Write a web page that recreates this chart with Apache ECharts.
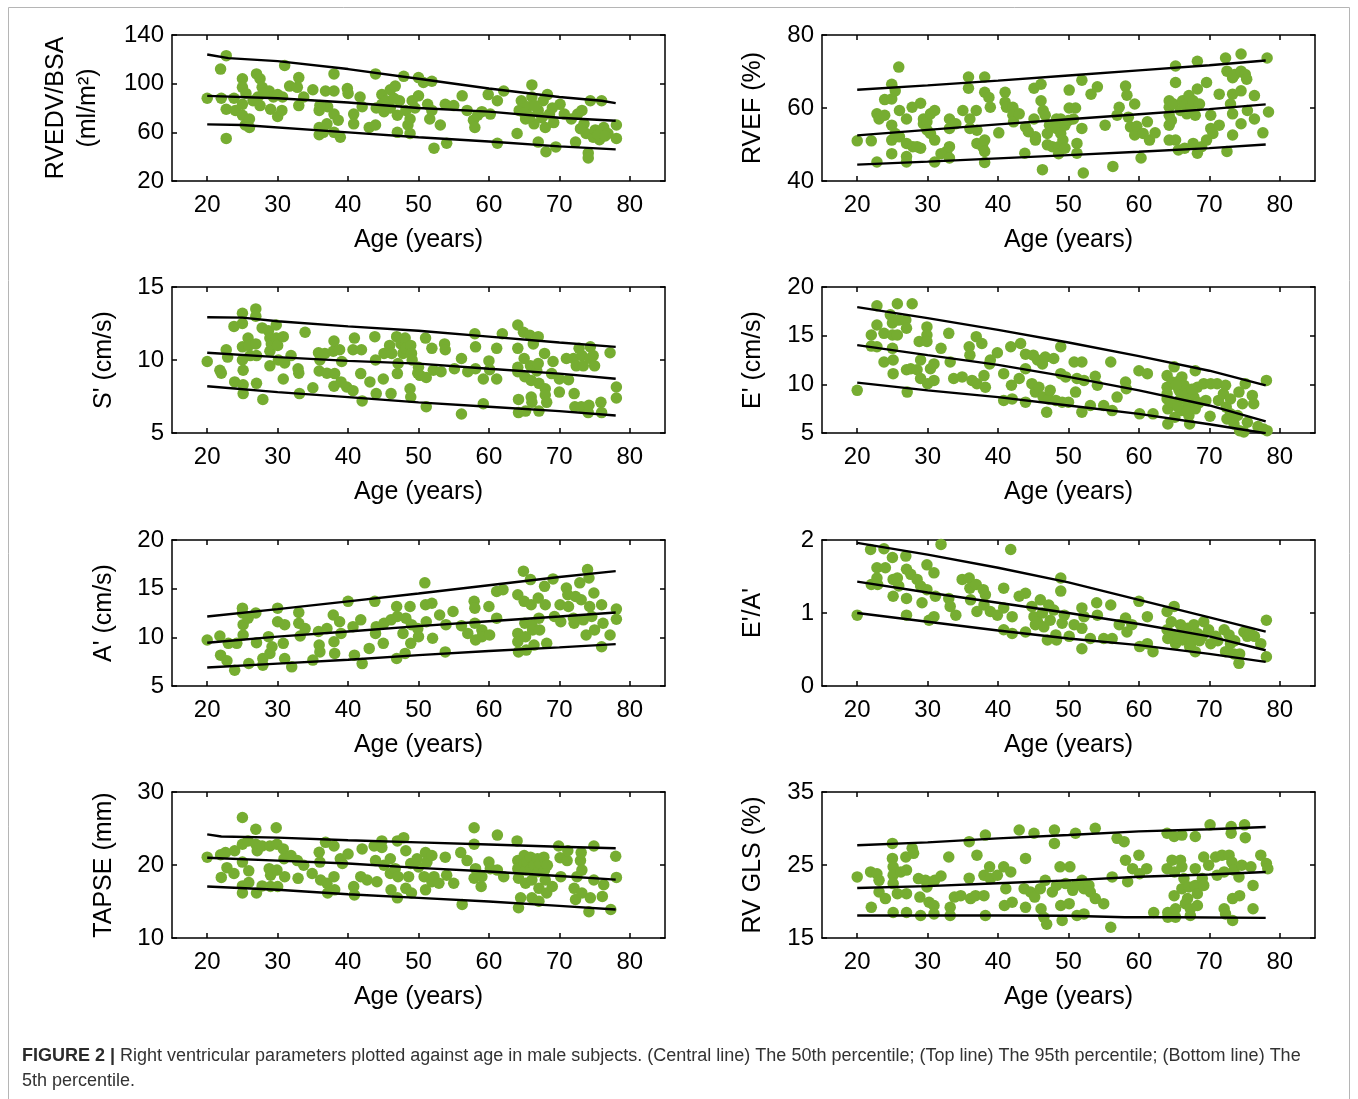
<!DOCTYPE html>
<html><head><meta charset="utf-8">
<script src="https://cdn.jsdelivr.net/npm/echarts@6/dist/echarts.min.js"></script>
<style>html,body{margin:0;padding:0;background:#fff}#c{width:1358px;height:1099px}</style>
</head><body><div id="c"></div>
<script>
// ---------- DATA ----------
const AGE_TICKS = [20, 30, 40, 50, 60, 70, 80];

// RVEDV/BSA (ml/m2)
const rvedvTicks = [20, 60, 100, 140];
const rvedvPts = [[20,88],[21.9,112],[22,88],[22.7,123],[22.7,55],[22.7,79],[23.8,88],[24,78],[25,104],[25,97],[25,83],[25,74],[25.4,66],[26,71],[26,64],[27,108],[27.5,104],[27.8,97],[27.2,89],[28.8,94],[29,79],[29.4,89],[30,91],[30,73],[30.6,78],[30.7,89],[31,115],[31.7,98],[33,105],[33,82],[33.7,89],[32.8,97],[35,95],[35.9,78],[35.9,64],[35.9,58],[36.8,94],[36.5,60],[37.1,81],[38,94],[38,108],[38,75],[38,60],[38.6,70],[38.9,56],[39.9,96],[40.8,75],[40.8,67],[41.7,89],[42,81],[43,64],[43.9,108],[43.9,66],[44.8,91],[44.8,83],[45.1,77],[45.4,86],[46,95],[46.7,98],[47,74],[47,60],[47.3,86],[47.9,106],[48.2,78],[48.5,66],[48.8,59],[49.1,86],[48.8,71],[50,90],[50,105],[50.7,101],[51.3,83],[51.6,71],[51.9,102],[51.9,78],[52.2,47],[53.1,66],[53.8,83],[54,51],[55,82],[56.2,90],[56.9,78],[57.8,70],[58,64],[58.4,74],[59,77],[59.9,91],[60.2,75],[61.2,86],[61.2,51],[62.1,94],[64,59],[64.3,78],[64.6,86],[65.2,71],[65.5,81],[66.1,99],[66.1,89],[66.4,67],[67,78],[67,52],[67.7,86],[68,64],[68.1,44],[68.3,91],[68.6,75],[69.2,68],[69.5,48],[70.1,83],[70.7,75],[71.7,71],[72.3,52],[72.6,75],[73.2,78],[73.5,67],[73.8,59],[74.1,43],[74.1,39],[74.4,86],[74.8,56],[75.1,62],[75.7,54],[76,86],[76.3,64],[76.9,59],[78.1,66],[78.1,55],[25.5,92],[26.5,86],[27.5,82],[28,92],[46,80],[46.5,88],[49.5,80],[65,76],[66.5,82],[67.5,72],[69,80],[65.8,73],[73,63],[75.5,58],[76.5,57],[36,82],[37,67],[40,92],[44,80]];
const rvedvP95 = [[20,124],[23,121],[30,118.5],[40,112],[50,104],[60,96],[70,89],[76,86],[78,84]];
const rvedvP50 = [[20,90],[30,88],[40,84.5],[50,80],[60,77],[70,72],[78,69.5]];
const rvedvP5  = [[20,66.5],[25,66],[40,60],[50,56],[60,52.5],[70,48.5],[78,46]];

// RVEF (%)
const rvefTicks = [40, 60, 80];
const rvefPts = [[20,51],[22,51],[22.8,45.2],[22.8,58.4],[23.1,57],[23.9,62.3],[23.9,58],[24.9,66.5],[24.9,62.5],[24.9,55.3],[24.9,51.2],[24.9,47.5],[25.4,64.7],[25.4,53],[25.9,71.2],[26,59.3],[26,52.1],[27,57],[27,50.3],[27,46.7],[27,45.2],[27.8,60.2],[27.9,49.4],[28.5,49.4],[29,61.3],[29,49],[29.4,57],[29.4,55.7],[29.9,56.2],[29.9,54],[30.4,58.4],[30.4,53],[31,59.3],[31,51.2],[31,45.2],[31.9,47.5],[32.7,48.1],[33.1,57],[33.1,54.4],[33.1,49.4],[33.1,46.3],[34,55.7],[35,59.3],[35.8,68.5],[35.8,65.4],[36,57],[36,54.4],[36.9,59.3],[37,53.9],[37,50.3],[37.8,49.4],[38.1,68.5],[38.1,64.3],[38.1,51.2],[38.1,48.1],[38.1,45.1],[38.7,62.9],[38.9,60.2],[40.1,53.2],[41,64.3],[41,61.6],[41.2,60.2],[42.1,60.2],[42.1,58],[42.2,56.2],[43,58.4],[43.8,47.6],[43.9,54.8],[44.3,53.5],[45.1,65.4],[45.1,57],[45.3,52.1],[45.3,51.2],[46.1,66.5],[46.1,62],[46.3,43.1],[46.4,59.3],[46.7,58],[47,53],[47,49.9],[47.3,55.3],[47.7,49.4],[48.3,57],[48.3,54.4],[48.6,49.4],[48.6,47.5],[48.9,57],[48.9,53],[49.2,51.2],[49.5,49],[49.5,55.3],[50,56.6],[50.1,64.9],[50.1,60],[50.7,57],[51,60],[51.2,50.3],[51.2,47.6],[51.9,67.6],[51.9,54.4],[52.1,42.2],[53.2,63.8],[54.1,65.8],[55.2,55.3],[56.3,44],[56.9,58],[57.2,60.2],[58.1,66],[58.3,63.5],[58.5,57.5],[58.8,54.8],[59.4,61.1],[59.4,52.6],[59.7,55],[60.3,46.3],[60.6,53],[61.2,56.2],[61.5,51.2],[62.3,53.2],[64.3,62],[64.3,60.2],[64.3,58],[64.3,55.3],[64.3,51.2],[64.6,56.6],[64.9,61.1],[65.2,71.5],[65.2,67],[65.2,51.2],[65.6,48.5],[65.9,59.3],[66.2,62],[66.5,60.7],[66.8,58.4],[66.5,49],[67.1,63.4],[67.4,60.2],[67.7,62],[67.7,50.3],[68,58],[68.3,72.8],[68.3,65.2],[68.3,47.6],[68.6,61.1],[68.9,49.4],[69.6,67],[69.6,51.2],[70.2,58],[70.2,54.4],[70.5,53],[71.4,63.8],[71.4,55.3],[72.3,73.7],[72.5,70.1],[72.5,48.1],[73,61.1],[73.3,68.3],[73.3,63.8],[73.3,58.4],[73.3,52.6],[73.6,69.2],[74.5,74.8],[74.5,70.1],[74.5,64.7],[74.5,55.7],[75.1,69.2],[75.3,67.9],[75.4,59.3],[76.4,63.4],[76.4,57],[77.6,53.2],[78.2,73.7],[78.4,58.9]];
const rvefP95 = [[20,65],[30,66.2],[40,67.5],[50,68.9],[60,70.3],[70,71.7],[78,73]];
const rvefP50 = [[20,52.5],[30,54],[40,55.5],[50,56.9],[60,58.3],[70,59.7],[78,61]];
const rvefP5  = [[20,44.5],[30,45.3],[40,46.2],[50,47.1],[60,48],[70,49],[78,50]];

// S' (cm/s)
const sTicks = [5, 10, 15];
const sPts = [[20,9.9],[21.8,9.3],[22,9.1],[22.7,10.7],[22.9,10.2],[23.8,12.3],[23.9,8.5],[25,13.2],[25,12.5],[25,10.9],[25,10],[25.1,9.3],[25.1,8.3],[25.1,7.7],[25.8,11.5],[25.9,11],[26.1,10.3],[26.9,13.5],[26.9,13],[26.9,11.1],[27,10.3],[27,8.4],[27.8,12.2],[27.9,7.3],[28.7,12],[28.9,11.5],[28.9,10.6],[28.9,9.6],[29.1,11.1],[29.8,12.4],[29.8,11.5],[30,11],[30.1,10],[30.8,11.6],[30.8,8.7],[31,9.8],[31.9,10.3],[32.9,9.4],[33,9.1],[33.1,7.7],[33.9,11.9],[35,8.1],[35.8,10.5],[35.9,9.25],[36,10],[36.7,10.45],[37,9.1],[37.9,10.6],[38,11.3],[38,8.2],[38.1,9.07],[38.8,10.7],[39,8.5],[39.1,9.9],[39.8,8.15],[40.7,7.9],[40.7,10.7],[40.9,11.5],[41.8,9.07],[41.9,10.7],[42,7.2],[43.1,8.5],[43.8,11.6],[43.9,10],[44,7.7],[45,8.7],[45.1,10.45],[45.9,11],[46.1,7.7],[46.2,10.45],[46.9,11.6],[47,9.07],[47.1,9.76],[47.5,11.1],[47.8,10.45],[48.1,11.5],[48.2,10.8],[48.8,8.03],[48.9,11],[48.9,7.46],[49,10.45],[49.1,10],[49.9,9.1],[50,9.5],[50.2,8.95],[51,11.5],[51.1,8.8],[51.1,6.8],[51.9,10.8],[52.1,9.3],[53.2,9.2],[53.7,11.1],[53.8,10.7],[55.1,9.4],[56.1,10.1],[56.1,6.3],[57,9.2],[58,11.8],[58.1,10.9],[58.1,9.4],[59.2,8.7],[59.2,7],[60,9.94],[60.1,9.34],[61.1,8.7],[61.1,10.8],[61.9,11.8],[64.1,12.4],[64.1,10.8],[64.1,9.5],[64.1,9.2],[64.2,7.3],[64.2,6.4],[64.9,11.9],[65,10.1],[65.1,8.85],[65.2,6.5],[65.8,11.7],[65.9,9.6],[66,8.6],[66,7.46],[66.1,7.1],[66.3,11.1],[66.8,9.25],[67,11.6],[67,9.76],[67.1,8.4],[67.1,6.5],[67.9,10.45],[68,8.03],[68,7.6],[68.2,7.1],[68.9,9.07],[69.1,9.9],[70,8.7],[70,7.8],[71,10.1],[71.3,8.65],[72,10.1],[72.1,7.7],[72.2,6.8],[72.4,9.6],[72.8,10.8],[73.1,6.8],[73.2,10.3],[73.4,9.6],[74.1,6.4],[74.2,6.9],[74.4,10.9],[74.4,10.1],[74.8,10.3],[75,9.6],[75.9,7.1],[76,6.4],[77.2,10.5],[78.1,8.15],[78.1,7.4]];
const sP95 = [[20,12.93],[25,12.9],[30,12.65],[40,12.3],[50,12],[60,11.6],[70,11.2],[78,10.9]];
const sP50 = [[20,10.5],[30,10.2],[40,9.94],[50,9.75],[60,9.4],[70,9.07],[78,8.72]];
const sP5  = [[20,8.2],[30,7.8],[40,7.46],[50,7.1],[60,6.8],[70,6.5],[78,6.2]];

// E' (cm/s)
const eTicks = [5, 10, 15, 20];
const ePts = [[20,9.38],[22,15.07],[22,13.93],[22.8,18.07],[22.8,16.1],[22.8,13.86],[23.8,15.24],[23.8,12.3],[24.7,17.14],[25,16.3],[25,15.07],[25,13.7],[25.1,12.5],[25.1,11.1],[25.7,18.28],[25.7,15.07],[25.9,16.6],[26.9,16.6],[27,15.76],[27,11.5],[27.1,9.2],[27.8,18.28],[27.6,11.6],[28.5,11.5],[28.8,14.4],[29,12.5],[29,10.6],[29.9,15.9],[29.9,15.07],[29.9,14.4],[30,10.07],[30.4,11.6],[30.9,12.1],[30.9,10.4],[31.9,13.7],[33,15.24],[33.2,12.3],[33.7,10.6],[34.9,10.76],[35.9,13.86],[36,13],[36.3,10.4],[36.9,14.9],[37,10.07],[37.7,14.2],[38,10.9],[38.2,9.7],[38.8,12.1],[38.9,12.5],[39.9,13.24],[40.8,11.1],[40.8,8.35],[41.8,13.86],[41.9,9.9],[42,8.5],[43,10.6],[43.2,14.2],[43.9,13.1],[43.9,11.6],[43.9,8.17],[44.8,10.07],[45,13],[45.3,9.2],[45.6,12.5],[45.8,9.7],[46.3,12.1],[46.4,8.69],[46.7,12.8],[46.9,7.14],[47.2,8.5],[47.4,9.38],[47.9,12.66],[48.2,8.35],[48.9,13.86],[48.9,11.1],[49.1,8.17],[49.6,10.76],[50,8.17],[50.8,12.3],[51,9.2],[51.2,10.6],[51.9,12.3],[51.9,7.14],[52.2,10.4],[53.1,7.83],[53.8,10.83],[54.1,9.9],[55,7.83],[56,12.3],[56.2,7.3],[56.9,8.69],[58.1,10.24],[58.2,9.55],[60,11.4],[60.1,6.97],[61.2,11.1],[62,6.97],[64,10.9],[64,9.7],[64,9.03],[64,8.5],[64.1,7.48],[64.1,5.93],[64.7,10.24],[65,11.8],[65,8],[65.1,6.62],[65.7,9.38],[65.8,10.4],[65.9,8.5],[66,7.3],[66.1,10.76],[66.4,9.9],[66.9,9.03],[67,8],[67.1,6.8],[67.2,5.93],[67.8,8.69],[68,11.4],[68,7.48],[68.3,9.7],[69.2,10.07],[69.5,8.35],[70.1,6.72],[70.2,10.07],[71.1,10.07],[71.3,8.35],[72,9.03],[72.3,9.9],[72.4,7.66],[72.5,6.45],[73,6.97],[73,8.5],[73.5,5.93],[74,6.8],[74.2,9.2],[74.3,5.24],[74.7,8],[74.9,5.1],[75.1,10.07],[75.4,6.1],[76.1,8.86],[76.3,8],[76.9,5.66],[77.7,5.41],[78.1,10.4],[78.2,5.24],[64.5,8.2],[65.5,7.7],[66.5,8.8],[67.5,9.5],[68.5,8.1],[65.3,9.9],[66.8,7.2]];
const eP95 = [[20,17.93],[30,16.8],[40,15.6],[50,14.3],[60,12.9],[70,11.4],[78,9.9]];
const eP50 = [[20,14.03],[30,13],[40,12],[50,10.76],[60,9.38],[70,7.83],[78,6.2]];
const eP5  = [[20,10.17],[30,9.38],[40,8.69],[50,7.83],[60,6.97],[70,5.9],[78,4.97]];

// A' (cm/s)
const aTicks = [5, 10, 15, 20];
const aPts = [[20,9.72],[21.8,10.14],[21.9,8.17],[22.8,7.59],[23,9.38],[23.9,6.62],[24.2,9.38],[25,13],[25,12.5],[25.1,11.3],[25.1,10.24],[25.8,11.97],[25.9,7.31],[26.9,12.5],[27,9.45],[27.9,7.14],[27.9,7.83],[28.7,10.07],[28.9,8.35],[29.2,9.03],[30,13],[30,11.6],[30.8,9.38],[31,11.3],[31,7.83],[32,6.97],[33,12.55],[33,11.45],[33.2,10.14],[33.9,10.9],[35,7.66],[35.8,10.6],[35.9,9.2],[36,8.5],[37,10.9],[37.9,12.3],[38,9.55],[38.1,8.35],[38.8,11.6],[39,10.4],[40,13.7],[40.7,11.1],[40.9,8.17],[41.8,11.8],[42,7.3],[43,8.86],[43.8,13.7],[43.9,10.4],[44,11.1],[45,9.38],[45.1,11.45],[46.1,11.8],[46.9,13.17],[46.9,7.83],[47,12.14],[47.8,10.4],[48.1,8.35],[48.2,11.97],[48.8,13.17],[48.9,9.38],[49,11.3],[49.9,10.9],[50,10.07],[50.9,15.6],[51,13.35],[51.1,11.6],[51.9,13.5],[52,9.9],[53,12.3],[53.8,8.5],[53.9,11.3],[54.9,12.66],[56.1,11.2],[57,10.4],[57.9,13.7],[58,13],[58,11.45],[58.1,9.72],[59,10.76],[59,10.07],[60,13.17],[60.1,10.24],[61.1,14.72],[61.1,11.97],[62,14.9],[64.1,14.38],[64.1,10.4],[64.1,9.55],[64.2,8.5],[64.9,16.8],[65,13.7],[65.1,11.45],[65.2,10.07],[65.3,8.69],[65.9,15.93],[66,13.35],[66.1,11.3],[66.2,10.76],[66.4,9.2],[67,14.03],[67.1,11.97],[67.2,10.76],[67.9,15.24],[68,13.35],[68.2,9.38],[69.1,16],[69.3,12.14],[70.1,13.35],[70.2,11.6],[71,15.07],[71.2,14.38],[71.3,13.17],[72,11.97],[72.1,11.45],[72.3,14.2],[72.9,15.6],[73.1,13.86],[73.4,11.8],[73.8,10.24],[74,16.97],[74.2,16.1],[74.3,13.17],[74.6,12.14],[74.9,14.55],[75,10.76],[76,9.03],[76,13.35],[76.2,11.45],[77.2,10.24],[78.1,12.9],[78.1,11.86]];
const aP95 = [[20,12.14],[30,12.9],[40,13.7],[50,14.5],[60,15.35],[70,16.2],[78,16.8]];
const aP50 = [[20,9.45],[30,10.07],[40,10.6],[50,11.15],[60,11.65],[70,12.14],[78,12.55]];
const aP5  = [[20,6.9],[30,7.3],[40,7.7],[50,8.17],[60,8.6],[70,8.97],[78,9.3]];

// E'/A'
const eaTicks = [0, 1, 2];
const eaPts = [[20,0.97],[21.9,1.87],[22,1.39],[22.8,1.62],[22.8,1.48],[22.9,1.39],[23.8,1.88],[24,1.62],[25,1.76],[25.1,1.46],[25.1,1.23],[25.7,1.48],[25.9,1.37],[26.9,1.78],[27,1.6],[27,1.2],[27,0.97],[27.6,1.53],[28.5,1.46],[29,1.37],[29.2,1.14],[29.9,1.66],[29.9,1.32],[30.2,0.9],[30.9,1.55],[30.9,0.95],[31.1,1.23],[31.9,1.94],[33,1.2],[33.2,1.09],[34,0.97],[34.9,1.46],[35.9,1.48],[36,1.34],[36.1,1.18],[36.9,1.39],[37,1.02],[37.9,1.32],[38,1.11],[38.2,1.25],[38.9,1.02],[39.9,0.97],[40.8,1.34],[40.8,1.07],[40.8,0.77],[41.8,1.87],[42,0.95],[42,0.72],[43,1.23],[43.9,1.27],[43.9,0.74],[44.8,1.09],[45.1,0.95],[45.3,0.84],[45.6,0.88],[46,1.18],[46.3,1],[46.5,0.81],[47,0.63],[47.2,1.11],[47.4,0.9],[47.9,1.04],[48.2,0.7],[48.3,0.63],[48.9,1.48],[48.9,1.3],[49.1,0.86],[49.4,0.97],[50.1,0.68],[50.8,0.84],[51.9,1.07],[51.9,0.79],[51.9,0.51],[52.2,0.95],[53.1,0.65],[54,1.14],[54.1,0.97],[55,0.65],[56,1.11],[56.2,0.65],[57.2,0.84],[58.1,0.93],[58.3,0.74],[59,0.84],[60,1.16],[60.1,0.54],[61.2,0.95],[61.2,0.58],[62,0.47],[64,1.02],[64,0.77],[64.1,0.65],[65,1.09],[65,0.7],[65.2,0.58],[65.9,0.84],[66,0.72],[66.2,0.63],[66.9,0.79],[67,0.68],[67.2,0.54],[67.8,0.84],[68,0.47],[68.3,0.72],[69,0.68],[69.2,0.88],[69.9,0.77],[70.2,0.58],[70.9,0.68],[72.1,0.77],[72.3,0.47],[72.8,0.7],[73,0.58],[73.5,0.44],[74.2,0.31],[74.3,0.44],[74.9,0.74],[75.4,0.68],[75.8,0.72],[76.4,0.68],[77.3,0.58],[78.1,0.9],[78.1,0.4],[64.6,0.88],[65.6,0.66],[66.6,0.76],[67.5,0.6],[68.6,0.62],[71.2,0.62],[73.6,0.62]];
const eaP95 = [[20,1.96],[30,1.8],[40,1.62],[50,1.42],[60,1.18],[70,0.94],[78,0.745]];
const eaP50 = [[20,1.43],[30,1.28],[40,1.14],[50,1.0],[60,0.85],[70,0.68],[78,0.49]];
const eaP5  = [[20,1.0],[30,0.88],[40,0.76],[50,0.65],[60,0.56],[70,0.44],[78,0.33]];

// TAPSE (mm)
const tapseTicks = [10, 20, 30];
const tapsePts = [[20,21.07],[21.9,21.4],[22,18.3],[22.6,21.7],[22.8,19.64],[23.8,18.84],[23.9,21.96],[25,26.5],[25,22.85],[25,20.4],[25,17.14],[25,16.16],[25.8,23.3],[25.9,19.2],[25.9,17.6],[26.9,24.9],[26.9,22.85],[27,16.16],[27.1,21.96],[27.8,22.6],[27.8,17.14],[28.8,19.5],[28.9,22.6],[29,18.6],[29,17.05],[29.8,25.1],[29.9,22.85],[29.9,19.3],[30,17.05],[30.8,22.2],[31,18.4],[30.9,20.85],[31.9,21.3],[32.8,20.6],[32.9,18.17],[33.7,19.96],[34.9,18.84],[35.9,21.74],[36,20.4],[36.1,17.95],[36.8,23.1],[37,17.5],[37.1,16.16],[38,22.6],[38,18.4],[38.1,16.6],[38.9,20.85],[39.2,20.2],[40,21.5],[40.8,17.05],[40.9,15.9],[41.8,18.4],[42,22.2],[42.7,17.95],[43.7,22.6],[43.9,20.6],[44.1,17.7],[44.8,23.3],[44.8,22.4],[45.1,19.96],[46,20.85],[46,18.84],[46.1,16.6],[46.7,19.5],[47,23.3],[47,15.5],[47.1,18.4],[47.9,23.75],[48.2,21.96],[48.2,16.8],[48.6,18.4],[48.9,20.2],[49,16.16],[49.8,20.85],[50,19.73],[50.8,18.4],[51,21.7],[51,16.6],[51.2,20.4],[51.9,21.3],[51.9,17.7],[52.2,18.4],[52.9,17.5],[53.8,21.07],[54,18.6],[55,17.5],[56,21.7],[56.2,14.6],[56.9,20.6],[57.9,25.1],[57.9,22.85],[57.9,18.2],[58.1,19.5],[58.9,17.05],[59,18.4],[60,20.4],[60.2,19.5],[61.2,24.1],[61.2,19.3],[62.1,18.4],[64,23.3],[64.1,20.6],[64.1,19.5],[64.2,18.2],[64.2,14.15],[64.5,15.5],[65,21.3],[65.05,20.2],[65.2,19.3],[65.2,17.5],[65.4,20.4],[65.9,21.07],[66,19.5],[66.1,17.95],[66.1,15.5],[66.4,19.96],[66.9,20.85],[67,19.07],[67.1,16.8],[67.1,15.04],[67.3,20.2],[67.8,21.07],[67.9,19.3],[68,17.95],[68.2,16.16],[68.3,19.96],[69,17.05],[69.9,22.6],[70.1,21],[70.2,18.4],[71.1,20.6],[71.2,21.96],[72.1,16.8],[72.3,15.27],[72.5,18.4],[73,20.6],[73.1,21.7],[73.2,19.3],[73.2,16.16],[74.2,13.6],[74.4,15.5],[74.9,22.6],[74.9,17.95],[76.1,15.7],[76.3,17.3],[77.3,13.9],[78,21.2],[78.1,18.3]];
const tapseP95 = [[20,24.2],[22,23.9],[30,23.75],[40,23.4],[50,23.1],[60,22.8],[70,22.5],[78,22.3]];
const tapseP50 = [[20,21],[30,20.6],[40,20.2],[50,19.6],[60,19.1],[70,18.5],[78,18]];
const tapseP5  = [[20,17.05],[30,16.6],[40,16],[50,15.5],[60,15],[70,14.4],[78,13.9]];

// RV GLS (%)
const glsTicks = [15, 25, 35];
const glsPts = [[20,23.37],[21.9,24.05],[22,19.2],[22.8,23.8],[23.1,22.9],[23.1,21.3],[24,20.4],[25,27.96],[25,25.9],[25.1,24.75],[25.1,23.6],[25.1,22.45],[25.1,18.5],[25.7,21.07],[26.2,24.05],[26.9,26.1],[27,24.3],[27,21.07],[27,18.5],[27.8,27.3],[28,26.6],[28.7,23.14],[28.9,20.6],[29,18.08],[29.7,22.9],[29.9,21.99],[30.2,19.9],[30.9,19.46],[30.9,18.3],[31,22.9],[31.9,23.5],[33,26.1],[33.2,19.2],[33.2,18.08],[33.8,20.6],[34.7,20.8],[35.9,23.2],[35.9,28.2],[36.1,20.4],[36.8,20.8],[37,26.35],[38,20.8],[38,23.6],[38.2,29.1],[38.2,18.08],[38.8,24.75],[38.9,23.14],[39.9,23.6],[40.8,24.75],[41.1,21.76],[41.8,24.05],[40.9,19.46],[42,19.9],[43,29.8],[43.7,21.76],[43.9,25.9],[43.9,19.2],[44.6,21.3],[45.1,29.35],[45.2,20.6],[46,21.76],[46.1,19],[46.5,17.85],[46.7,22.9],[46.9,16.9],[47.7,21.3],[48,29.8],[48,27.96],[48.3,22.2],[48.8,24.75],[48.9,19.46],[49.1,17.4],[49.6,22.45],[50.1,19.7],[50.2,24.75],[50.6,21.53],[51,29.35],[51,22.2],[51.2,18.08],[51.9,22.9],[52.2,18.3],[52.2,21.76],[52.9,22.2],[53.1,21.3],[53.8,30.03],[53.8,20.4],[55,19.7],[56,16.47],[56.2,23.37],[56.9,28.65],[57.9,28.2],[58.1,25.66],[58.4,22.7],[59.1,24.5],[60,26.35],[60.1,23.8],[61.1,24.5],[62.1,18.5],[64,29.35],[64,24.5],[64.1,18.5],[64.1,17.85],[64.7,25.66],[65,28.9],[65.05,24.05],[65,20.8],[65.2,17.85],[65.2,19],[65.9,25.66],[66.1,21.76],[66.1,29.1],[66.1,24.75],[66.4,23.14],[66.6,19.7],[66.9,20.4],[67.1,21.99],[67.3,19],[67.3,18.08],[68,28.9],[68,24.5],[68,22.2],[68.3,19.46],[68.3,21.07],[69,23.14],[69.2,22.2],[69.2,26.1],[69.9,24.98],[70.1,30.5],[70.9,26.1],[71.1,23.6],[71.8,26.35],[72.1,19],[72.1,24.05],[72.3,18.3],[72.8,26.35],[73.1,30.26],[73.1,29.35],[73.2,25.4],[73.3,20.4],[73.3,17.4],[73.5,24.3],[74.2,23.37],[74.3,20.8],[74.6,24.98],[75,30.5],[75.1,28.75],[75.9,24.75],[76.2,22.2],[76.2,19],[77.3,26.35],[78.1,25.2],[78.3,24.5]];
const glsP95 = [[20,27.7],[30,28.1],[40,28.65],[50,29.1],[60,29.6],[70,29.9],[78,30.2]];
const glsP50 = [[20,21.85],[30,22.1],[40,22.5],[50,22.9],[60,23.4],[70,23.7],[78,24.05]];
const glsP5  = [[20,18.08],[30,18.08],[40,18.08],[50,18.05],[58,17.85],[65,17.85],[78,17.75]];

// ---------- CHART ----------
const FONT = '"Liberation Sans", Arial, Helvetica, sans-serif';
const GREEN = '#76ad31';
const COLS = [172, 822];
const ROWS = [35, 287, 540, 792];
const W = 493, H = 146;

const panels = [
  {name:'RVEDV/BSA\n(ml/m²)', pts:rvedvPts, p5:rvedvP5, p50:rvedvP50, p95:rvedvP95, ticks:rvedvTicks, col:0, row:0, gap:68},
  {name:'RVEF (%)', pts:rvefPts, p5:rvefP5, p50:rvefP50, p95:rvefP95, ticks:rvefTicks, col:1, row:0, gap:53},
  {name:"S' (cm/s)", pts:sPts, p5:sP5, p50:sP50, p95:sP95, ticks:sTicks, col:0, row:1, gap:52},
  {name:"E' (cm/s)", pts:ePts, p5:eP5, p50:eP50, p95:eP95, ticks:eTicks, col:1, row:1, gap:53},
  {name:"A' (cm/s)", pts:aPts, p5:aP5, p50:aP50, p95:aP95, ticks:aTicks, col:0, row:2, gap:52},
  {name:"E'/A'", pts:eaPts, p5:eaP5, p50:eaP50, p95:eaP95, ticks:eaTicks, col:1, row:2, gap:53},
  {name:'TAPSE (mm)', pts:tapsePts, p5:tapseP5, p50:tapseP50, p95:tapseP95, ticks:tapseTicks, col:0, row:3, gap:52},
  {name:'RV GLS (%)', pts:glsPts, p5:glsP5, p50:glsP50, p95:glsP95, ticks:glsTicks, col:1, row:3, gap:53}
];

const grid = [], xAxis = [], yAxis = [], series = [];
const lineStyleAxis = {color:'#000', width:1.5};
panels.forEach((p, i) => {
  grid.push({left: COLS[p.col], top: ROWS[p.row], width: W, height: H, containLabel:false});
  const ymin = p.ticks[0], ymax = p.ticks[p.ticks.length-1];
  ['bottom','top'].forEach(pos => {
    xAxis.push({
      type:'value', gridIndex:i, position:pos, min:15, max:85,
      axisLine:{show:true, onZero:false, lineStyle:lineStyleAxis},
      axisTick:{show:true, inside:true, length:5, customValues:AGE_TICKS, lineStyle:lineStyleAxis},
      axisLabel:{show:pos==='bottom', customValues:AGE_TICKS, fontSize:24, color:'#000', fontFamily:FONT, margin:12},
      splitLine:{show:false},
      name: pos==='bottom' ? 'Age (years)' : '',
      nameLocation:'middle', nameGap:47,
      nameTextStyle:{fontSize:25, color:'#000', fontFamily:FONT}
    });
  });
  ['left','right'].forEach(pos => {
    yAxis.push({
      type:'value', gridIndex:i, position:pos, min:ymin, max:ymax,
      axisLine:{show:true, onZero:false, lineStyle:lineStyleAxis},
      axisTick:{show:true, inside:true, length:5, customValues:p.ticks, lineStyle:lineStyleAxis},
      axisLabel:{show:pos==='left', customValues:p.ticks, fontSize:24, color:'#000', fontFamily:FONT, margin:8},
      splitLine:{show:false},
      name: pos==='left' ? p.name : '',
      nameLocation:'middle', nameGap:p.gap,
      nameTextStyle:{fontSize:25, color:'#000', fontFamily:FONT, lineHeight:32}
    });
  });
  series.push({
    type:'scatter', xAxisIndex:2*i, yAxisIndex:2*i, data:p.pts,
    symbol:'circle', symbolSize:11.5, itemStyle:{color:GREEN, opacity:1}, z:2, silent:true
  });
  [p.p95, p.p50, p.p5].forEach(ln => {
    series.push({
      type:'line', xAxisIndex:2*i, yAxisIndex:2*i, data:ln, symbol:'none', showSymbol:false,
      lineStyle:{color:'#000', width:2.4}, z:3, silent:true
    });
  });
});

const chart = echarts.init(document.getElementById('c'), null, {renderer:'canvas'});
chart.setOption({
  animation:false,
  backgroundColor:'#fff',
  grid, xAxis, yAxis, series,
  graphic:[
    {type:'rect', silent:true, shape:{x:8.5, y:7.5, width:1341, height:1110},
     style:{fill:'none', stroke:'#b5b5b5', lineWidth:1}},
    {type:'text', silent:true, x:22, y:1056,
     style:{text:'{b|FIGURE 2 |}{n| Right ventricular parameters plotted against age in male subjects. (Central line) The 50th percentile; (Top line) The 95th percentile; (Bottom line) The}',
       verticalAlign:'middle',
       rich:{b:{fontWeight:'bold', fontSize:18, fontFamily:FONT, fill:'#2b2b2b'}, n:{fontSize:18, fontFamily:FONT, fill:'#333'}}}},
    {type:'text', silent:true, x:22, y:1081,
     style:{text:'5th percentile.', verticalAlign:'middle', fontSize:18, fontFamily:FONT, fill:'#333'}}
  ]
});
</script>
</body></html>
